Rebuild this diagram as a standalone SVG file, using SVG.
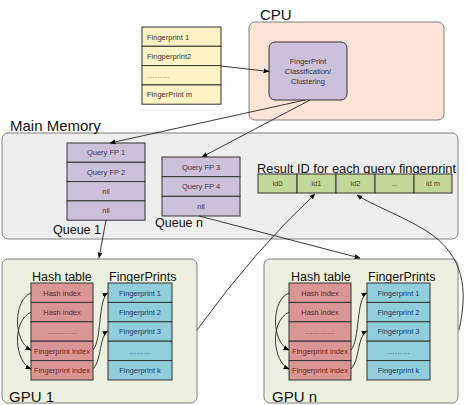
<svg xmlns="http://www.w3.org/2000/svg" width="468" height="405" viewBox="0 0 468 405">
<defs>
<marker id="ah" viewBox="0 0 10 10" refX="9" refY="5" markerWidth="6" markerHeight="6" orient="auto" markerUnits="userSpaceOnUse">
<path d="M0,1 L10,5 L0,9 z" fill="#000"/>
</marker>
<style>
text{font-family:"Liberation Sans",Arial,sans-serif;}
.big{font-size:15px;fill:#111;}
.mid{font-size:12.5px;fill:#111;}
.sm{font-size:7.5px;text-anchor:middle;}
.cell{stroke:#333;stroke-width:1;}
.q{fill:#ccc0da;}
.qt{fill:#3f3151;}
.y{fill:#fff2c4;}
.g{fill:#c4d79b;}
.gt{fill:#3c4a1e;}
.h{fill:#da9694;}
.ht{fill:#6b1f1c;}
.b{fill:#92cddc;}
.bt{fill:#17375e;}
.ln{fill:none;stroke:#222;stroke-width:0.9;}
</style>
</defs>
<rect width="468" height="405" fill="#fff"/>

<g id="cpu">
<rect x="249" y="22" width="195" height="98" rx="6" fill="#fce4d6" stroke="#7f7f7f"/>
<text x="260" y="20" class="big" font-size="14">CPU</text>
</g>

<g id="fingerprint-list">
<rect x="142" y="27" width="79" height="19.3" class="cell y"/>
<rect x="142" y="46.3" width="79" height="19.3" class="cell y"/>
<rect x="142" y="65.6" width="79" height="19.3" class="cell y"/>
<rect x="142" y="84.9" width="79" height="19.3" class="cell y"/>
<text x="147" y="39.5" font-size="7.5" fill="#333">Fingerprint 1</text>
<text x="147" y="58.8" font-size="7.5" fill="#333">Fingperprint2</text>
<text x="147" y="78" font-size="7.5" fill="#555">………</text>
<text x="147" y="97.3" font-size="7.5" fill="#333">FingerPrint m</text>
</g>

<g id="classification">
<rect x="269" y="42" width="78" height="58" rx="6" fill="#ccc0da" stroke="#333"/>
<text x="308" y="64" class="sm" fill="#333">FingerPrint</text>
<text x="308" y="74" class="sm" fill="#333">Classification/</text>
<text x="308" y="84" class="sm" fill="#333">Clustering</text>
</g>

<g id="main-memory">
<rect x="2" y="133" width="456" height="106" rx="6" fill="#eeeeee" stroke="#7f7f7f"/>
<text x="10" y="131" class="big">Main Memory</text>
</g>

<g id="queue-1">
<rect x="67" y="143" width="78" height="19.3" class="cell q"/>
<rect x="67" y="162.3" width="78" height="19.3" class="cell q"/>
<rect x="67" y="181.6" width="78" height="19.3" class="cell q"/>
<rect x="67" y="200.9" width="78" height="19.3" class="cell q"/>
<text x="106" y="155.3" class="sm qt">Query FP 1</text>
<text x="106" y="174.6" class="sm qt">Query FP 2</text>
<text x="106" y="193.9" class="sm qt">nil</text>
<text x="106" y="213.2" class="sm qt">nil</text>
<text x="53" y="233.5" class="mid">Queue 1</text>
</g>

<g id="queue-n">
<rect x="162" y="157" width="78" height="19.7" class="cell q"/>
<rect x="162" y="176.7" width="78" height="19.6" class="cell q"/>
<rect x="162" y="196.3" width="78" height="19.7" class="cell q"/>
<text x="201" y="169.5" class="sm qt">Query FP 3</text>
<text x="201" y="189" class="sm qt">Query FP 4</text>
<text x="201" y="208.7" class="sm qt">nil</text>
<text x="155" y="226.5" class="mid">Queue n</text>
</g>

<g id="result-ids">
<text x="257" y="172.5" class="mid" textLength="199" lengthAdjust="spacingAndGlyphs">Result ID for each query fingerprint</text>
<rect x="258" y="174" width="39" height="19" class="cell g"/>
<rect x="297" y="174" width="39" height="19" class="cell g"/>
<rect x="336" y="174" width="39" height="19" class="cell g"/>
<rect x="375" y="174" width="39" height="19" class="cell g"/>
<rect x="414" y="174" width="38" height="19" class="cell g"/>
<text x="277.5" y="186" class="sm gt">id0</text>
<text x="316.5" y="186" class="sm gt">id1</text>
<text x="355.5" y="186" class="sm gt">id2</text>
<text x="394.5" y="186" class="sm gt">...</text>
<text x="433" y="186" class="sm gt">id m</text>
</g>

<g id="gpu-1">
<rect x="2" y="259" width="195" height="144" rx="6" fill="#ebf1de" stroke="#7f7f7f"/>
<text x="32" y="280.5" class="mid">Hash table</text>
<text x="109" y="280.5" class="mid">FingerPrints</text>
<rect x="31" y="283" width="62" height="19.4" class="cell h"/>
<rect x="31" y="302.4" width="62" height="19.4" class="cell h"/>
<rect x="31" y="321.8" width="62" height="19.4" class="cell h"/>
<rect x="31" y="341.2" width="62" height="19.4" class="cell h"/>
<rect x="31" y="360.6" width="62" height="19.4" class="cell h"/>
<text x="62" y="295.5" class="sm ht">Hash index</text>
<text x="62" y="314.9" class="sm ht">Hash index</text>
<text x="62" y="334" class="sm ht">…………</text>
<text x="62" y="353.7" class="sm ht">Fingerprint index</text>
<text x="62" y="373.1" class="sm ht">Fingerprint index</text>
<rect x="108" y="283" width="64" height="19.4" class="cell b"/>
<rect x="108" y="302.4" width="64" height="19.4" class="cell b"/>
<rect x="108" y="321.8" width="64" height="19.4" class="cell b"/>
<rect x="108" y="341.2" width="64" height="19.4" class="cell b"/>
<rect x="108" y="360.6" width="64" height="19.4" class="cell b"/>
<text x="140" y="295.5" class="sm bt">Fingerprint 1</text>
<text x="140" y="314.9" class="sm bt">Fingerprint 2</text>
<text x="140" y="334.3" class="sm bt">Fingerprint 3</text>
<text x="140" y="353.5" class="sm bt">………</text>
<text x="140" y="373.1" class="sm bt">Fingerprint k</text>
<text x="9" y="402" class="big" font-size="14.5">GPU 1</text>
</g>

<g id="gpu-n">
<rect x="264" y="259" width="194" height="144" rx="6" fill="#ebf1de" stroke="#7f7f7f"/>
<text x="291" y="280.5" class="mid">Hash table</text>
<text x="368" y="280.5" class="mid">FingerPrints</text>
<rect x="289" y="283" width="62" height="19.4" class="cell h"/>
<rect x="289" y="302.4" width="62" height="19.4" class="cell h"/>
<rect x="289" y="321.8" width="62" height="19.4" class="cell h"/>
<rect x="289" y="341.2" width="62" height="19.4" class="cell h"/>
<rect x="289" y="360.6" width="62" height="19.4" class="cell h"/>
<text x="320" y="295.5" class="sm ht">Hash index</text>
<text x="320" y="314.9" class="sm ht">Hash index</text>
<text x="320" y="334" class="sm ht">…………</text>
<text x="320" y="353.7" class="sm ht">Fingerprint index</text>
<text x="320" y="373.1" class="sm ht">Fingerprint index</text>
<rect x="367" y="283" width="63" height="19.4" class="cell b"/>
<rect x="367" y="302.4" width="63" height="19.4" class="cell b"/>
<rect x="367" y="321.8" width="63" height="19.4" class="cell b"/>
<rect x="367" y="341.2" width="63" height="19.4" class="cell b"/>
<rect x="367" y="360.6" width="63" height="19.4" class="cell b"/>
<text x="398.5" y="295.5" class="sm bt">Fingerprint 1</text>
<text x="398.5" y="314.9" class="sm bt">Fingerprint 2</text>
<text x="398.5" y="334.3" class="sm bt">Fingerprint 3</text>
<text x="398.5" y="353.5" class="sm bt">………</text>
<text x="398.5" y="373.1" class="sm bt">Fingerprint k</text>
<text x="272" y="402" class="big" font-size="14.5">GPU n</text>
</g>

<g id="connectors">
<line x1="221" y1="66" x2="269" y2="71.5" class="ln" marker-end="url(#ah)"/>
<line x1="305" y1="100" x2="110" y2="143" class="ln" marker-end="url(#ah)"/>
<line x1="310" y1="100" x2="202" y2="157" class="ln" marker-end="url(#ah)"/>
<line x1="106" y1="220" x2="99" y2="258" class="ln" marker-end="url(#ah)"/>
<line x1="199" y1="216" x2="360" y2="258" class="ln" marker-end="url(#ah)"/>
<path d="M197,330 Q255,250 315,194" class="ln" marker-end="url(#ah)"/>
<path d="M459,330 C468,290 465,255 425,230 C400,215 372,205 357,195" class="ln" marker-end="url(#ah)"/>
<path d="M31,293 C13,300 13,342 31,350" class="ln" marker-end="url(#ah)"/>
<path d="M31,312 C11,322 15,362 31,369" class="ln" marker-end="url(#ah)"/>
<path d="M93,350 C102,340 98,298 108,293" class="ln" marker-end="url(#ah)"/>
<path d="M93,369 C102,360 99,336 108,331" class="ln" marker-end="url(#ah)"/>
<path d="M289,293 C271,300 271,342 289,350" class="ln" marker-end="url(#ah)"/>
<path d="M289,312 C269,322 273,362 289,369" class="ln" marker-end="url(#ah)"/>
<path d="M351,350 C360,340 356,298 367,293" class="ln" marker-end="url(#ah)"/>
<path d="M351,369 C360,360 357,336 367,331" class="ln" marker-end="url(#ah)"/>
</g>
</svg>
